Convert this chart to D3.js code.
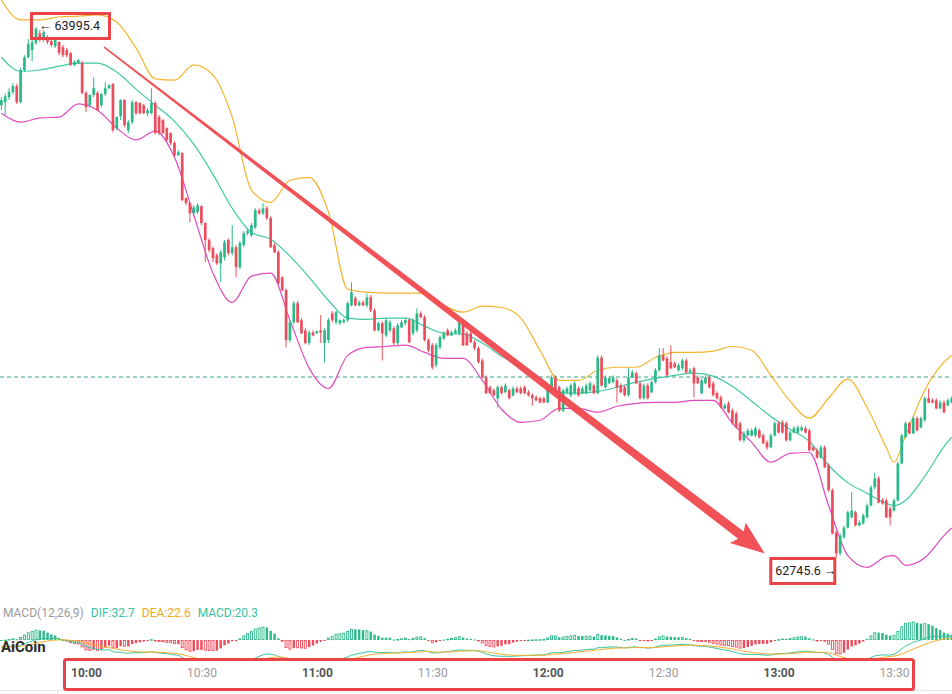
<!DOCTYPE html>
<html><head><meta charset="utf-8">
<script src="https://cdn.jsdelivr.net/npm/d3@7"></script>
<style>html,body{margin:0;padding:0;background:#fff;overflow:hidden}</style>
</head><body>
<svg id="c" width="952" height="694"></svg>
<script>
// ---------- DATA ----------
const startTime = new Date(2024, 3, 15, 9, 38);   // first 1-minute candle
// [open, high, low, close]
const ohlc = [
[63811,63830,63799,63823],[63818,63839,63788,63832],[63830,63851,63823,63842],[63842,63863,63837,63856],[63856,63861,63814,63818],
[63818,63899,63816,63894],[63894,63929,63889,63924],[63924,63967,63922,63955],[63941,63965,63915,63960],[63958,63995.4,63953,63991],
[63981,63988,63960,63965],[63965,63988,63960,63983],[63972,63976,63955,63960],[63962,63967,63948,63953],[63950,63969,63946,63965],
[63960,63962,63929,63934],[63948,63953,63924,63929],[63941,63946,63924,63929],[63934,63936,63903,63906],[63906,63917,63903,63913],
[63910,63920,63908,63917],[63910,63915,63837,63840],[63840,63844,63795,63806],[63811,63837,63806,63835],[63835,63877,63830,63851],
[63840,63844,63797,63799],[63811,63840,63806,63837],[63837,63865,63832,63851],[63851,63861,63849,63858],[63861,63863,63747,63752],
[63757,63785,63752,63783],[63785,63825,63776,63823],[63823,63825,63759,63764],[63752,63776,63745,63771],[63771,63823,63766,63818],
[63818,63821,63788,63792],[63816,63818,63790,63792],[63811,63814,63790,63792],[63792,63804,63785,63799],[63792,63851,63790,63816],
[63816,63821,63743,63745],[63783,63788,63740,63745],[63776,63778,63743,63745],[63757,63759,63726,63729],[63745,63747,63717,63722],
[63722,63726,63688,63693],[63693,63705,63691,63700],[63698,63700,63585,63587],[63592,63594,63575,63580],[63580,63582,63535,63556],
[63556,63575,63552,63570],[63559,63580,63554,63575],[63573,63575,63528,63533],[63533,63535,63441,63493],[63493,63497,63464,63469],
[63474,63478,63441,63450],[63457,63462,63434,63438],[63438,63469,63394,63464],[63452,63493,63445,63488],[63493,63497,63457,63462],
[63462,63528,63457,63476],[63476,63481,63405,63429],[63429,63490,63424,63486],[63481,63514,63476,63509],[63509,63519,63504,63514],
[63504,63533,63500,63528],[63523,63568,63519,63563],[63563,63568,63552,63556],[63556,63580,63552,63568],[63568,63573,63540,63545],
[63545,63549,63474,63476],[63481,63486,63462,63464],[63464,63469,63389,63391],[63405,63408,63372,63375],[63375,63379,63240,63257],
[63257,63304,63252,63299],[63299,63349,63294,63344],[63344,63349,63297,63299],[63304,63309,63271,63273],[63280,63285,63247,63250],
[63250,63280,63245,63275],[63275,63280,63266,63268],[63273,63280,63271,63278],[63280,63316,63250,63275],[63250,63285,63205,63280],
[63257,63309,63250,63304],[63320,63325,63299,63304],[63299,63327,63294,63323],[63297,63306,63292,63304],[63299,63309,63297,63304],
[63304,63349,63299,63344],[63339,63393,63337,63370],[63356,63360,63337,63339],[63339,63351,63337,63346],[63346,63351,63337,63339],
[63339,63367,63334,63358],[63358,63363,63323,63327],[63327,63332,63278,63280],[63280,63301,63278,63297],[63297,63301,63209,63273],
[63268,63309,63264,63304],[63280,63304,63275,63299],[63285,63290,63245,63250],[63250,63297,63245,63292],[63287,63304,63285,63299],
[63297,63309,63292,63304],[63304,63309,63250,63252],[63273,63309,63268,63304],[63280,63332,63275,63320],[63320,63325,63309,63311],
[63311,63316,63254,63257],[63257,63261,63228,63233],[63245,63250,63188,63193],[63198,63250,63193,63245],[63240,63268,63235,63264],
[63261,63278,63257,63273],[63280,63285,63266,63268],[63268,63280,63266,63275],[63273,63285,63271,63280],[63273,63309,63268,63299],
[63299,63304,63243,63245],[63273,63278,63243,63245],[63273,63278,63250,63252],[63252,63257,63233,63238],[63238,63242,63202,63205],
[63209,63214,63167,63169],[63169,63174,63129,63132],[63146,63150,63129,63132],[63139,63143,63124,63127],[63120,63150,63098,63146],
[63146,63150,63129,63132],[63134,63155,63132,63150],[63139,63143,63117,63120],[63127,63148,63124,63143],[63143,63148,63132,63134],
[63143,63148,63129,63132],[63146,63150,63129,63132],[63134,63139,63124,63127],[63127,63132,63103,63120],[63122,63127,63113,63115],
[63120,63124,63108,63110],[63120,63124,63108,63110],[63110,63150,63108,63146],[63146,63174,63141,63169],[63169,63174,63136,63139],
[63146,63150,63087,63091],[63091,63143,63087,63139],[63134,63148,63129,63143],[63127,63155,63122,63150],[63132,63160,63127,63155],
[63143,63148,63124,63127],[63132,63148,63129,63143],[63132,63155,63129,63150],[63139,63160,63136,63155],[63150,63155,63129,63132],
[63132,63221,63129,63216],[63216,63221,63148,63150],[63146,63174,63143,63169],[63155,63172,63153,63167],[63158,63174,63155,63169],
[63162,63167,63110,63146],[63150,63155,63132,63134],[63146,63150,63124,63127],[63127,63191,63124,63169],[63169,63186,63167,63181],
[63179,63183,63153,63155],[63155,63160,63117,63120],[63120,63155,63117,63150],[63150,63155,63117,63120],[63134,63162,63132,63158],
[63158,63191,63155,63186],[63186,63238,63183,63221],[63221,63238,63207,63209],[63214,63219,63172,63174],[63205,63245,63188,63191],
[63202,63207,63191,63193],[63186,63202,63183,63198],[63191,63214,63186,63209],[63209,63214,63179,63181],[63181,63191,63179,63186],
[63191,63195,63122,63155],[63169,63174,63153,63155],[63132,63167,63129,63162],[63155,63174,63153,63169],[63169,63174,63143,63146],
[63155,63160,63124,63127],[63132,63136,63117,63120],[63122,63127,63096,63099],[63096,63108,63094,63103],[63108,63113,63084,63087],
[63091,63096,63058,63061],[63084,63089,63049,63051],[63061,63065,63018,63021],[63021,63042,63016,63037],[63032,63049,63030,63044],
[63032,63049,63030,63044],[63032,63054,63028,63049],[63044,63049,63025,63028],[63032,63037,63011,63014],[63016,63021,62998,63004],
[63004,63037,63002,63032],[63032,63065,63030,63061],[63061,63065,63037,63039],[63063,63068,63037,63039],[63061,63065,63018,63021],
[63021,63044,63018,63039],[63039,63054,63037,63049],[63039,63056,63037,63051],[63044,63056,63042,63051],[63049,63054,63037,63039],
[63044,63049,62995,62997],[63004,63009,62995,62997],[62997,63002,62978,62980],[62980,63009,62978,63004],[63004,63009,62955,62957],
[62962,62966,62900,62903],[62903,62907,62799,62801],[62803,62808,62745.6,62754],[62754,62801,62749,62796],[62792,62820,62789,62815],
[62815,62855,62813,62851],[62839,62898,62837,62855],[62851,62855,62818,62820],[62820,62832,62818,62827],[62825,62848,62822,62844],
[62839,62872,62837,62867],[62867,62914,62865,62910],[62910,62945,62905,62931],[62931,62936,62872,62874],[62879,62884,62869,62872],
[62879,62884,62837,62839],[62860,62865,62820,62839],[62855,62884,62853,62879],[62879,62971,62877,62966],[62966,63037,62964,63032],
[63028,63065,63025,63061],[63061,63065,63035,63037],[63037,63077,63035,63073],[63073,63077,63042,63044],[63051,63077,63049,63073],
[63068,63124,63065,63120],[63120,63143,63108,63110],[63115,63120,63108,63110],[63115,63120,63094,63096],[63096,63115,63094,63110],
[63110,63115,63084,63087],[63103,63120,63101,63115],[63110,63124,63108,63120]
];
// Bollinger band readings (candle index -> price)
const bandIdx = [0,5,10,15,20,25,30,35,40,45,50,55,60,65,70,75,80,85,90,95,100,105,110,115,120,125,130,135,140,145,150,155,160,165,170,175,180,185,190,195,200,205,210,215,220,225,230,232,235,240,245,247];
const bandUpper = [64059,64012,64012,64019,64021,64024,64007,63946,63873,63870,63906,63882,63783,63611,63582,63634,63641,63559,63377,63370,63368,63368,63368,63339,63323,63337,63334,63309,63233,63162,63162,63186,63193,63193,63216,63228,63228,63231,63242,63233,63174,63113,63073,63120,63165,63098,63004,62969,63032,63139,63205,63221];
const bandMid   = [63924,63891,63894,63903,63910,63910,63889,63849,63811,63773,63719,63648,63568,63511,63495,63455,63405,63351,63309,63306,63309,63309,63290,63273,63271,63250,63219,63195,63169,63134,63132,63136,63146,63158,63167,63174,63179,63172,63148,63113,63077,63047,63018,62962,62921,62896,62872,62867,62879,62936,63006,63028];
const bandLower = [63792,63771,63781,63783,63814,63799,63757,63729,63750,63688,63552,63415,63346,63408,63415,63304,63191,63143,63221,63240,63242,63245,63228,63214,63214,63162,63094,63063,63068,63096,63096,63087,63101,63108,63110,63110,63115,63115,63061,63016,62969,62990,62992,62867,62749,62721,62747,62749,62726,62744,62796,62814];
const lastPrice = 63170;
const highText = "63995.4", lowText = "62745.6";
const tickLabels = ["10:00","10:30","11:00","11:30","12:00","12:30","13:00","13:30"];
const macdLegend = [["MACD(12,26,9)","#9a9a9a"],["DIF:32.7","#35c3a0"],["DEA:22.6","#f2a71b"],["MACD:20.3","#35c3a0"]];
const watermark = "AiCoin";
const arrowFrom = {i:26.7, p:63948}, arrowTo = {i:198.4, p:62754};

// ---------- SCALES ----------
const W = 952, H = 694;
const GREEN = "#2bb98a", RED = "#ec4d5c";
const svg = d3.select("#c");
const tAt = i => new Date(startTime.getTime() + i * 60000);
const day = (h, m) => new Date(2024, 3, 15, h, m);
const x = d3.scaleTime().domain([day(10,0), day(13,30)]).range([86, 894]);
const y = d3.scaleLinear().domain([62745.6, 63995.4]).range([557, 27]);
const FONT = "Roboto, Arial, sans-serif";

const defs = svg.append("defs");
defs.append("clipPath").attr("id","mainClip").append("rect").attr("x",0).attr("y",0).attr("width",W).attr("height",598);
defs.append("clipPath").attr("id","macdClip").append("rect").attr("x",0).attr("y",600).attr("width",W).attr("height",58);

const main = svg.append("g").attr("clip-path","url(#mainClip)");

// last price dashed line
main.append("line").attr("x1",0).attr("x2",W).attr("y1",y(lastPrice)).attr("y2",y(lastPrice))
  .attr("stroke","#3aa58c").attr("stroke-width",1).attr("stroke-dasharray","4,3");

// bands
const bandLine = arr => d3.line().x((d,k)=>x(tAt(bandIdx[k]))).y(d=>y(d)).curve(d3.curveMonotoneX)(arr);
main.append("path").attr("d",bandLine(bandUpper)).attr("fill","none").attr("stroke","#f4b42c").attr("stroke-width",1.2);
main.append("path").attr("d",bandLine(bandMid)).attr("fill","none").attr("stroke","#3fcaa3").attr("stroke-width",1.2);
main.append("path").attr("d",bandLine(bandLower)).attr("fill","none").attr("stroke","#de4cbf").attr("stroke-width",1.2);

// candles
const cg = main.append("g");
const bw = 2.7;
ohlc.forEach((d,i)=>{
  const [o,h,l,c] = d;
  const cx = x(tAt(i));
  const col = c >= o ? GREEN : RED;
  cg.append("line").attr("x1",cx).attr("x2",cx).attr("y1",y(h)).attr("y2",y(l)).attr("stroke",col).attr("stroke-width",1);
  const top = y(Math.max(o,c)), bot = y(Math.min(o,c));
  cg.append("rect").attr("x",cx-bw/2).attr("y",top).attr("width",bw).attr("height",Math.max(1,bot-top)).attr("fill",col);
});

// trend arrow (tapered)
(function(){
  const x0 = x(tAt(arrowFrom.i)), y0 = y(arrowFrom.p);
  const x1 = x(tAt(arrowTo.i)), y1 = y(arrowTo.p);
  const dx = x1-x0, dy = y1-y0, L = Math.hypot(dx,dy);
  const ux = dx/L, uy = dy/L, nx = -uy, ny = ux;
  const headL = 30, headW = 13, w0 = 0.8, w1 = 4.6;
  const bx = x1 - ux*headL, by = y1 - uy*headL;
  const pts = [
    [x0+nx*w0, y0+ny*w0],
    [bx+nx*w1, by+ny*w1],
    [bx+nx*headW - ux*4, by+ny*headW - uy*4],
    [x1, y1],
    [bx-nx*headW - ux*4, by-ny*headW - uy*4],
    [bx-nx*w1, by-ny*w1],
    [x0-nx*w0, y0-ny*w0]
  ];
  svg.append("polygon").attr("points",pts.map(p=>p.join(",")).join(" ")).attr("fill","#f0494f").attr("opacity",0.95);
})();

// high / low labels
const hiI = ohlc.findIndex(d=>d[1]===d3.max(ohlc,e=>e[1]));
const loI = ohlc.findIndex(d=>d[2]===d3.min(ohlc,e=>e[2]));
{
  const hx = x(tAt(hiI)), hy = y(ohlc[hiI][1]);
  svg.append("rect").attr("x",hx-4.5).attr("y",hy-13.5).attr("width",78).attr("height",25)
    .attr("fill","none").attr("stroke","#ea4348").attr("stroke-width",3);
  svg.append("text").attr("x",hx+3).attr("y",hy+3).attr("font-family",FONT).attr("font-size",12.5).attr("fill","#222")
    .text("\u2190 " + highText);
  const lx = x(tAt(loI)), ly = y(ohlc[loI][2]);
  svg.append("rect").attr("x",lx-65.5).attr("y",ly+1.5).attr("width",64).attr("height",25)
    .attr("fill","none").attr("stroke","#ea4348").attr("stroke-width",3);
  svg.append("text").attr("x",lx-61).attr("y",ly+18).attr("font-family",FONT).attr("font-size",12.5).attr("fill","#222")
    .text(lowText + " \u2192");
}

// ---------- MACD ----------
const closes = ohlc.map(d=>d[3]);
const ema = (arr,n)=>{const k=2/(n+1); let e=arr[0]; return arr.map((v,i)=> i===0 ? e : (e = v*k + e*(1-k)));};
const e12 = ema(closes,12), e26 = ema(closes,26);
const dif = e12.map((v,i)=>v-e26[i]);
const dea = ema(dif,9);
const hist = dif.map((v,i)=>2*(v-dea[i]));
const kH = 0.3, kL = 0.22;
const yH = d3.scaleLinear().domain([-1,1]).range([640+kH, 640-kH]);
const yL = d3.scaleLinear().domain([-1,1]).range([647+kL, 647-kL]);
const mg = svg.append("g").attr("clip-path","url(#macdClip)");
hist.forEach((v,i)=>{
  const cx = x(tAt(i));
  const prev = i>0 ? hist[i-1] : 0;
  const pos = v >= 0;
  const growing = Math.abs(v) > Math.abs(prev);
  const col = pos ? GREEN : RED;
  const y0 = yH(0), y1 = yH(v);
  const top = Math.min(y0,y1), h = Math.max(1, Math.abs(y1-y0));
  if (growing) {
    mg.append("rect").attr("x",cx-1).attr("y",top+0.5).attr("width",2).attr("height",Math.max(0.5,h-1))
      .attr("fill","#fff").attr("stroke",col).attr("stroke-width",0.9);
  } else {
    mg.append("rect").attr("x",cx-1.2).attr("y",top).attr("width",2.4).attr("height",h).attr("fill",col);
  }
});
const macdLine = arr => d3.line().x((d,i)=>x(tAt(i))).y(d=>yL(d)).curve(d3.curveMonotoneX)(arr);
mg.append("path").attr("d",macdLine(dif)).attr("fill","none").attr("stroke","#35c3a0").attr("stroke-width",1);
mg.append("path").attr("d",macdLine(dea)).attr("fill","none").attr("stroke","#f2b12a").attr("stroke-width",1);

// legend
{
  let lx = 3;
  macdLegend.forEach(([t,c])=>{
    const tx = svg.append("text").attr("x",lx).attr("y",617).attr("font-family",FONT).attr("font-size",12).attr("fill",c).text(t);
    lx += tx.node().getComputedTextLength() + 7;
  });
}
// watermark
svg.append("text").attr("x",1).attr("y",652).attr("font-family",FONT)
  .attr("font-weight","bold").attr("font-size",15).attr("fill","#2b2b2b").text(watermark);

// ---------- TIME AXIS ----------
svg.append("line").attr("x1",0).attr("x2",W).attr("y1",690.5).attr("y2",690.5).attr("stroke","#e6e6e6");
svg.append("line").attr("x1",57.5).attr("x2",57.5).attr("y1",690).attr("y2",694).attr("stroke","#e6e6e6");
const tickDates = tickLabels.map(s=>{const [h,m]=s.split(":").map(Number); return day(h,m);});
const axis = d3.axisBottom(x).tickValues(tickDates).tickSize(0).tickPadding(0)
  .tickFormat((d,i)=>tickLabels[i]);
const ag = svg.append("g").attr("transform","translate(0,668)").call(axis);
ag.select(".domain").remove();
ag.selectAll("text").attr("font-family",FONT).attr("font-size",12)
  .attr("fill",(d)=> d.getMinutes()===0 ? "#555" : "#999")
  .attr("font-weight",(d)=> d.getMinutes()===0 ? "bold" : "normal");
svg.append("rect").attr("x",64.5).attr("y",659.5).attr("width",849).attr("height",30).attr("rx",2)
  .attr("fill","none").attr("stroke","#ea4348").attr("stroke-width",3);
</script>
</body></html>
